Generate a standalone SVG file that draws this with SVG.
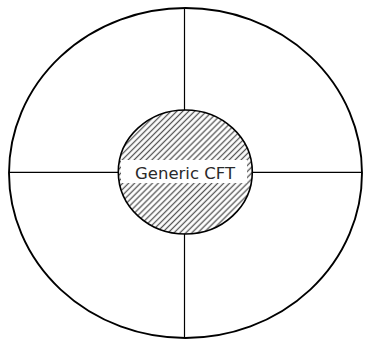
<svg xmlns="http://www.w3.org/2000/svg" width="365" height="340" viewBox="0 0 365 340">
<style>
.outer{fill:none;stroke:#000;stroke-width:1.9}
.inner{fill:url(#hatch);stroke:#000;stroke-width:1.6}
.conn{stroke:#000;stroke-width:1.2;fill:none}
.lbl{font-family:"DejaVu Sans","Liberation Sans",sans-serif;font-size:16.5px;fill:#2a2a2a;text-anchor:middle}
</style>
<defs>
<pattern id="hatch" patternUnits="userSpaceOnUse" width="4.2" height="4.2" patternTransform="rotate(-45)">
<rect width="4.2" height="4.2" fill="#fff"/>
<line x1="0" y1="2.1" x2="4.2" y2="2.1" stroke="#555" stroke-width="1.3"/>
</pattern>
</defs>
<g id="outer-ring">
<ellipse class="outer" cx="185.5" cy="173" rx="176.5" ry="165"/>
</g>
<g id="connectors">
<line class="conn" x1="9" y1="172.3" x2="118.5" y2="172.3"/>
<line class="conn" x1="252" y1="172.3" x2="362" y2="172.3"/>
<line class="conn" x1="184.5" y1="8" x2="184.5" y2="110"/>
<line class="conn" x1="184.5" y1="234" x2="184.5" y2="338"/>
</g>
<g id="generic-cft">
<ellipse class="inner" cx="185.3" cy="172" rx="67" ry="62"/>
<rect x="121" y="160" width="126" height="23" fill="#fff"/>
<text class="lbl" x="185" y="178.5">Generic CFT</text>
</g>
</svg>
